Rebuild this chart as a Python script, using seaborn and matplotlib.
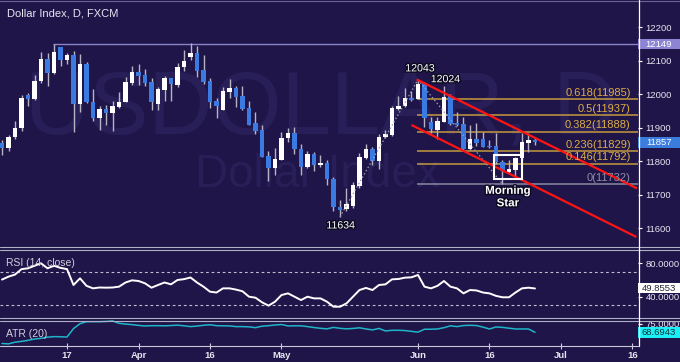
import numpy as np
import pandas as pd
import matplotlib
matplotlib.use("Agg")
import matplotlib.pyplot as plt
from matplotlib.patches import Rectangle
from matplotlib.lines import Line2D
import matplotlib.patheffects as pe
import seaborn as sns

# ---------------- data ----------------
first_session = "2015-03-03"
opens = [11854, 11839, 11872, 11899, 11997, 11985, 12039, 12105, 12063, 12140,
         12102, 12117, 11972, 12090, 11977, 11929, 11956, 11944, 11962, 11977,
         12033, 12066, 12057, 12036, 11971, 12012, 12048, 12027, 12081, 12111,
         12123, 12072, 12039, 11980, 11953, 12006, 12018, 11994, 11959, 11914,
         11893, 11815, 11780, 11803, 11869, 11884, 11836, 11782, 11821, 11788,
         11794, 11747, 11663, 11657, 11666, 11726, 11809, 11836, 11800, 11872,
         11878, 11956, 11965, 11988, 11985, 12033, 11917, 11893, 11917, 11994,
         11914, 11911, 11836, 11866, 11866, 11845, 11845, 11797, 11768, 11774,
         11809, 11854, 11863]
highs = [11863, 11878, 11920, 11997, 12003, 12057, 12126, 12123, 12149, 12141,
         12124, 12130, 12120, 12096, 12015, 11965, 11968, 11980, 12006, 12051,
         12084, 12090, 12075, 12048, 12021, 12054, 12048, 12093, 12132, 12152,
         12143, 12117, 12048, 11988, 12021, 12045, 12024, 12024, 11980, 11947,
         11908, 11830, 11839, 11887, 11899, 11902, 11851, 11830, 11827, 11818,
         11803, 11753, 11684, 11720, 11737, 11824, 11851, 11842, 11881, 11893,
         11965, 11994, 12018, 12010, 12043, 12036, 11932, 11932, 12024, 12000,
         11947, 11932, 11908, 11914, 11887, 11863, 11884, 11803, 11803, 11812,
         11884, 11884, 11869]
lows = [11818, 11830, 11866, 11890, 11965, 11982, 12033, 12024, 12060, 12084,
        12090, 11888, 11947, 11974, 11920, 11893, 11908, 11890, 11959, 11977,
        12027, 12027, 12024, 11953, 11953, 11980, 11980, 12021, 12069, 12102,
        12051, 12030, 11959, 11929, 11953, 11988, 11962, 11953, 11908, 11881,
        11812, 11741, 11759, 11803, 11857, 11821, 11759, 11780, 11771, 11782,
        11729, 11650, 11634, 11650, 11660, 11720, 11806, 11788, 11777, 11870,
        11875, 11953, 11962, 11980, 11985, 11902, 11884, 11866, 11917, 11908,
        11905, 11833, 11833, 11845, 11842, 11839, 11791, 11732, 11765, 11756,
        11803, 11827, 11848]
closes = [11839, 11872, 11899, 11988, 11985, 12039, 12105, 12063, 12126, 12102,
          12117, 11972, 12090, 11977, 11929, 11956, 11944, 11965, 11977, 12036,
          12066, 12054, 12033, 11977, 12015, 12048, 12030, 12081, 12099, 12123,
          12069, 12036, 11977, 11965, 12009, 12018, 11991, 11956, 11908, 11890,
          11812, 11780, 11806, 11869, 11884, 11836, 11782, 11821, 11788, 11794,
          11747, 11663, 11655, 11672, 11729, 11812, 11836, 11800, 11872, 11881,
          11959, 11965, 11988, 11982, 12030, 11929, 11896, 11920, 11991, 11911,
          11908, 11836, 11866, 11854, 11842, 11842, 11797, 11771, 11777, 11809,
          11857, 11863, 11857]
rsi_values = [60.5, 64, 66.5, 73, 74, 77, 80, 74, 77, 74.5, 73,
              54, 62, 53, 50, 51, 50.8, 51, 52, 57, 59.6,
              58.8, 56, 50.8, 54, 57, 54.8, 60, 61, 63, 57,
              52, 46, 45, 50, 50, 48.5, 46.5, 40, 38.8, 33.3,
              29.3, 34, 42, 44, 40, 36, 40, 38, 38, 34,
              28, 28, 32, 40, 48, 50.5, 48, 54, 54.8, 60.8,
              61.2, 62.8, 63.2, 66, 52, 50, 53, 58.8, 52, 50,
              44, 48, 47.5, 45, 44, 41, 39.3, 39.3, 45, 50, 50.8, 49.86]
atr_values = [60.2, 59.9, 61.2, 61.8, 62.6, 63.6, 64.1, 65, 65.4, 65.3, 65.1,
              71.5, 75.2, 76.7, 76.7, 76.7, 76.9, 77.3, 75.5, 74.9, 74.5,
              73.9, 73.5, 73.7, 73.7, 73.6, 73.8, 74.1, 73.6, 73, 73.4,
              74, 74.4, 73.7, 73.6, 73.5, 73, 73, 72.8, 72.2, 73.3,
              73.7, 74.2, 74.6, 73.5, 73.6, 73.6, 73, 72.3, 71.7, 71.3,
              72.4, 71.7, 71.3, 71.6, 72.1, 71.2, 70.5, 71.6, 69.7, 70.2,
              70.2, 70, 69.4, 68.8, 71, 71, 71.2, 72.2, 73.6, 73,
              73.8, 74, 73.8, 72.6, 71.2, 72.7, 72.4, 71.8, 71.2, 71.2, 71.2, 68.69]
rsi_last = "49.8553"
atr_last = "68.6943"
rsi_last_value = 49.8553
atr_last_value = 68.6943

tick_dates = ["2015-03-17", "2015-04-01", "2015-04-16", "2015-05-01",
              "2015-06-01", "2015-06-16", "2015-07-01", "2015-07-16"]
tick_labels = ["17", "Apr", "16", "May", "Jun", "16", "Jul", "16"]
price_ticks = [11600, 11700, 11800, 11900, 12000, 12100, 12200]
rsi_ticks = [40, 80]
rsi_bands = [70, 30]
atr_ticks = [75]

fib_ratios = ["0.618", "0.5", "0.382", "0.236", "0.146", "0"]
fib_levels = [11985, 11937, 11888, 11829, 11792, 11732]
resistance = 12149
last_price = 11857

zigzag_idx = [52, 64, 77]
zigzag_price = [11634, 12043, 11732]
label_idx = [52, 64, 68]
label_price = [11634, 12043, 12024]
label_text = ["11634", "12043", "12024"]

channel_upper_idx = [63.8, 97.7]
channel_upper_price = [12044, 11719]
channel_lower_idx = [63.0, 97.6]
channel_lower_price = [11908, 11574]

star_idx = [75.7, 79.95]
star_price = [11746, 11818]
star_text = "Morning\nStar"

# ---------------- style ----------------
sns.set_theme(style="dark")
plt.rcParams['font.family'] = ['Liberation Sans', 'DejaVu Sans']

BG = "#1f1549"
WM = "#281f59"
BLUE = "#3b7ae0"
WICK = "#b4b4c4"
GOLD_L = "#c49a3e"
GOLD_T = "#dcae46"
SEP = "#b0b0c6"
TXT = "#e6e6f0"

W, H = 680, 362
fig = plt.figure(figsize=(W / 100, H / 100), dpi=100, facecolor=BG)


def fy(px):
    return 1 - px / H


right_px = 638
ax = fig.add_axes([0, fy(246), right_px / W, 246 / H])
ax_rsi = fig.add_axes([0, fy(317), right_px / W, (317 - 249) / H])
ax_atr = fig.add_axes([0, fy(346), right_px / W, (346 - 320) / H])

df = pd.DataFrame({"open": opens, "high": highs, "low": lows, "close": closes})
idx = np.arange(len(df))
sessions = pd.bdate_range(first_session, periods=130)
tick_pos = [sessions.get_loc(pd.Timestamp(d)) for d in tick_dates]

XLIM = (-0.31, 97.85)

for a in (ax, ax_rsi, ax_atr):
    a.set_facecolor(BG)
    for s in a.spines.values():
        s.set_visible(False)
    a.grid(False)
    a.set_xlim(*XLIM)

# ---- watermark ----
ax.text(0.503, 0.459, "USDOLLAR, D", transform=ax.transAxes, ha="center",
        va="baseline", fontsize=64, color=WM, zorder=0)
ax.text(0.498, 0.240, "Dollar Index", transform=ax.transAxes, ha="center",
        va="baseline", fontsize=33, color=WM, zorder=0)

# ---- fib levels ----
for r, lv in zip(fib_ratios, fib_levels):
    col_l = "#8a8aa2" if r == "0" else GOLD_L
    col_t = "#8e8ea6" if r == "0" else GOLD_T
    ax.hlines(lv, 63.8, XLIM[1], color=col_l, lw=1.1, zorder=2)
    ax.annotate(f"{r}({lv})", xy=(96.75, lv), xytext=(0, 4.6),
                textcoords="offset points", ha="right", va="center",
                fontsize=8.0, color=col_t, zorder=7)

# ---- resistance line ----
ax.hlines(resistance, 7.85, XLIM[1], color="#8b83c9", lw=1.0, zorder=2)

# ---- candles ----
o = df["open"].to_numpy(float)
c = df["close"].to_numpy(float)
body_bottom = np.minimum(o, c)
body_h = np.maximum(np.abs(c - o), 3.5)
colors = np.where(c >= o, "#ffffff", BLUE)
ax.vlines(idx, df["low"], df["high"], color=WICK, lw=1.0, zorder=3)
ax.bar(idx, body_h, bottom=body_bottom, width=0.66, color=colors,
       linewidth=0, zorder=4)

# ---- zigzag ----
ax.plot(zigzag_idx, zigzag_price, color="#9c9cb0", lw=0.9, ls=(0, (1.2, 1.8)), zorder=5)

# ---- channel ----
ax.plot(channel_upper_idx, channel_upper_price, color="#ff1414", lw=1.6, zorder=6,
        solid_capstyle="butt")
ax.plot(channel_lower_idx, channel_lower_price, color="#ff1414", lw=1.6, zorder=6,
        solid_capstyle="butt")

# ---- morning star box ----
ax.add_patch(Rectangle((star_idx[0], star_price[0]), star_idx[1] - star_idx[0],
                       star_price[1] - star_price[0], fill=False,
                       edgecolor="#ffffff", lw=1.5, zorder=7))
shadow = [pe.withStroke(linewidth=2, foreground="#0c0a20")]
ax.annotate(star_text, xy=(np.mean(star_idx), star_price[0]), xytext=(0, -4),
            textcoords="offset points", ha="center", va="top", fontsize=8.3,
            fontweight="bold", color="white", linespacing=1.05, zorder=8,
            path_effects=shadow)

# ---- swing labels ----
offsets = {"11634": (0.5, -6.2), "12043": (1.4, 8.2), "12024": (1.0, 5.0)}
for xi, pv, t in zip(label_idx, label_price, label_text):
    dx, dy = offsets[t]
    ax.annotate(t, xy=(xi, pv), xytext=(dx, dy), textcoords="offset points",
                ha="center", va="center", fontsize=7.6, color="white", zorder=8,
                path_effects=shadow)

# ---- title ----
ax.text(7 / right_px, 1 - 14 / 246, "Dollar Index, D, FXCM", transform=ax.transAxes,
        ha="left", va="center", fontsize=8.0, color=TXT, zorder=8)

ax.set_ylim(11547, 12281)
ax.set_xticks([])
ax.yaxis.tick_right()
ax.set_yticks(price_ticks)
ax.set_yticklabels([str(p) for p in price_ticks])
ax.tick_params(axis="y", direction="out", length=3, width=0.8, color="white",
               labelcolor=TXT, labelsize=6.8, pad=2.5)

# ---- RSI ----
sns.lineplot(x=idx, y=rsi_values, ax=ax_rsi, color="white", linewidth=1.4, zorder=4)
for b in rsi_bands:
    ax_rsi.axhline(b, color="#c0c0d0", lw=0.8, ls=(0, (2.5, 2.5)), zorder=2)
ax_rsi.set_ylim(15.7, 97.1)
ax_rsi.set_xlim(*XLIM)
ax_rsi.set_xticks([])
ax_rsi.set_xlabel("")
ax_rsi.yaxis.tick_right()
ax_rsi.set_yticks(rsi_ticks)
ax_rsi.set_yticklabels([f"{v:.4f}" for v in rsi_ticks])
ax_rsi.tick_params(axis="y", direction="out", length=3, width=0.8, color="white",
                   labelcolor=TXT, labelsize=6.8, pad=2.5)
ax_rsi.text(6 / right_px, 0.794, "RSI (14, close)", transform=ax_rsi.transAxes,
            ha="left", va="center", fontsize=7.5, color="#d0d0dc", zorder=6)

# ---- ATR ----
sns.lineplot(x=idx, y=atr_values, ax=ax_atr, color="#1fb4c8", linewidth=1.1, zorder=4)
ax_atr.set_ylim(58.3, 78.0)
ax_atr.set_xlim(*XLIM)
ax_atr.yaxis.tick_right()
ax_atr.set_yticks(atr_ticks)
ax_atr.set_yticklabels([f"{v:.4f}" for v in atr_ticks])
ax_atr.tick_params(axis="y", direction="out", length=3, width=0.8, color="white",
                   labelcolor=TXT, labelsize=6.8, pad=2.5)
ax_atr.set_xticks(tick_pos)
ax_atr.set_xticklabels(tick_labels)
ax_atr.tick_params(axis="x", direction="inout", length=4, width=0.8, color="#d0d0dc",
                   labelcolor=TXT, labelsize=6.8, pad=1.5, bottom=True)
for lab in ax_atr.get_xticklabels():
    lab.set_fontweight("bold")
ax_atr.set_xlabel("")
ax_atr.text(6 / right_px, 0.48, "ATR (20)", transform=ax_atr.transAxes,
            ha="left", va="center", fontsize=7.5, color="#d0d0dc", zorder=6)


# ---- value tags on the right ----
def tag(axis, value, text, face, tcolor, h_px):
    y0, y1 = axis.get_ylim()
    ax_h_px = axis.get_position().height * H
    h = h_px * (y1 - y0) / ax_h_px
    w = (W - right_px) / right_px
    axis.add_patch(Rectangle((1.0, value - h / 2), w, h,
                             transform=axis.get_yaxis_transform(), clip_on=False,
                             facecolor=face, edgecolor="none", zorder=10))
    axis.text(1.0 + w / 2, value, text, transform=axis.get_yaxis_transform(),
              ha="center", va="center", fontsize=6.8, color=tcolor, zorder=11,
              clip_on=False)


tag(ax, resistance, str(resistance), "#8d84d4", "white", 10)
tag(ax, last_price, str(last_price), "#3b7ddd", "white", 11)
tag(ax_rsi, rsi_last_value, rsi_last, "#ffffff", "#262636", 10)
tag(ax_atr, atr_last_value, atr_last, "#1cf0f6", "#10303a", 11)

# ---- separators and frame ----
for ypx in (246.5, 249.5, 317.5, 320.5):
    fig.add_artist(Line2D([0, 1], [fy(ypx), fy(ypx)], transform=fig.transFigure,
                          color=SEP, lw=0.8))
fig.add_artist(Line2D([0, 1], [fy(0.5), fy(0.5)], transform=fig.transFigure,
                      color="#6a6490", lw=0.8))
fig.add_artist(Line2D([0, right_px / W], [fy(346), fy(346)], transform=fig.transFigure,
                      color="#c8c8d8", lw=0.8))
fig.add_artist(Line2D([(right_px + 0.5) / W] * 2, [fy(346), 1], transform=fig.transFigure,
                      color="white", lw=0.9))

fig.savefig("out.png", dpi=100, facecolor=BG)
